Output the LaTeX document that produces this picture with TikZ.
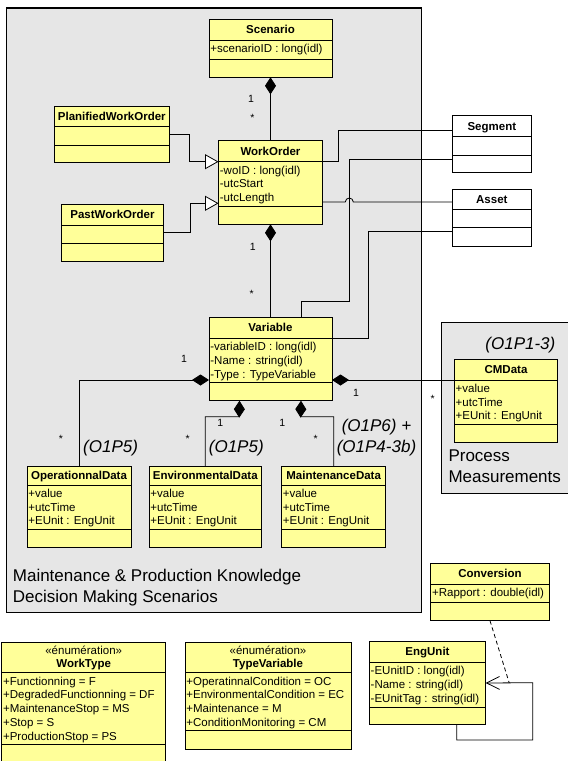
\documentclass[tikz,border=0pt]{standalone}
\usepackage{fontspec}
\setmainfont{Liberation Sans}
\usetikzlibrary{arrows.meta}
\definecolor{umlyellow}{RGB}{255,255,153}
\definecolor{pkggray}{RGB}{230,230,230}
\tikzset{
 clsbox/.style={draw, fill=umlyellow, line width=0.9pt, inner sep=0pt, outer sep=0pt},
 clsline/.style={line width=0.9pt},
 clsname/.style={font=\bfseries\fontsize{11.5}{13.8}\selectfont, inner sep=0pt, text height=8.3pt, text depth=0pt},
 clsattr/.style={font=\fontsize{11.5}{13.7}\selectfont, align=left, anchor=north west, inner xsep=1.2pt, inner ysep=0pt},
 stereo/.style={font=\fontsize{11.5}{13.8}\selectfont, inner sep=0pt, text height=8.3pt, text depth=0pt},
 mult/.style={font=\fontsize{10.5}{12}\selectfont, inner sep=0pt},
 obj/.style={font=\itshape\fontsize{17}{21}\selectfont, inner sep=0pt, align=center},
 pkglabel/.style={font=\fontsize{17}{21}\selectfont, align=left, anchor=north west, inner sep=0pt},
 pkg/.style={draw, fill=pkggray, line width=1.3pt},
 comp/.style={line width=0.8pt, -{Diamond[length=17pt,width=11pt]}},
 gen/.style={line width=0.8pt, -{Triangle[open,length=13.5pt,width=15pt,fill=white]}},
 assoc/.style={line width=0.8pt}
}
% name, left, top, right, header bottom, attributes bottom, bottom, title, attributes
\newcommand\umlclass[9]{%
 \node[clsbox, minimum width={#4-#2}, minimum height={#7-#3}] (#1) at ({(#2+#4)/2},{(#3+#7)/2}) {};
 \draw[clsline] (#2,#5) coordinate (#1-hl) -- (#4,#5) coordinate (#1-hr);
 \draw[clsline] (#2,#6) coordinate (#1-al) -- (#4,#6) coordinate (#1-ar);
 \node[clsname] (#1-name) at ({(#2+#4)/2},{(#3+#5)/2}) {#8};
 \node[clsattr, yshift=-4pt] (#1-attr) at (#2,#5) {#9};
}
\begin{document}
\begin{tikzpicture}[x=1pt,y=-1pt]
\useasboundingbox (0,0) rectangle (568,761);
\draw[pkg] (6.5,8) rectangle (421.5,612.5);
\draw[pkg] (441.7,322.3) rectangle (590,493.3);

\umlclass{scenario}{209}{19.3}{332}{40}{59.3}{77.3}{Scenario}{+scenarioID : long(idl)}
\umlclass{workorder}{218.5}{140.7}{322.5}{161.7}{206.7}{224.3}{WorkOrder}{-woID : long(idl)\\-utcStart\\-utcLength}
\umlclass{planified}{54.3}{106}{169.3}{126.7}{145}{162.5}{PlanifiedWorkOrder}{}
\umlclass{pastwo}{61.6}{204}{163.3}{225}{243.3}{261}{PastWorkOrder}{}
\begin{scope}[clsbox/.append style={fill=white}]
\umlclass{segment}{452.7}{115.7}{531}{136.7}{155}{172.7}{Segment}{}
\umlclass{asset}{452.7}{189}{531}{209.7}{227.7}{246}{Asset}{}
\end{scope}
\umlclass{variable}{209}{317.3}{332}{338.3}{382.7}{400.7}{Variable}{-variableID : long(idl)\\-Name : string(idl)\\-Type : TypeVariable}
\umlclass{operational}{27}{466}{131}{485}{529}{547.3}{OperationnalData}{+value\\+utcTime\\+EUnit : EngUnit}
\umlclass{environmental}{149}{466}{261.5}{485}{529}{547.3}{EnvironmentalData}{+value\\+utcTime\\+EUnit : EngUnit}
\umlclass{maintenance}{281.5}{466}{385.8}{485}{529}{547.3}{MaintenanceData}{+value\\+utcTime\\+EUnit : EngUnit}
\umlclass{cmdata}{454.3}{359}{557.7}{380}{424.3}{442.3}{CMData}{+value\\+utcTime\\+EUnit : EngUnit}
\umlclass{conversion}{430.7}{563.3}{549.3}{584}{602.3}{620.7}{Conversion}{+Rapport : double(idl)}
\umlclass{engunit}{369.3}{641.3}{485.7}{662.3}{707}{724.7}{EngUnit}{-EUnitID : long(idl)\\-Name : string(idl)\\-EUnitTag : string(idl)}
\umlclass{worktype}{1.7}{642.3}{165.7}{672.7}{744.3}{775}{}{+Functionning = F\\+DegradedFunctionning = DF\\+MaintenanceStop = MS\\+Stop = S\\+ProductionStop = PS}
\umlclass{typevariable}{185}{642.3}{351}{672.7}{730.7}{749}{}{+OperatinnalCondition = OC\\+EnvironmentalCondition = EC\\+Maintenance = M\\+ConditionMonitoring = CM}
\node[stereo] (worktype-stereo) at (83.7,650.7) {«énumération»};
\node[clsname] (worktype-title) at (83.7,663.3) {WorkType};
\node[stereo] (typevariable-stereo) at (268,650.7) {«énumération»};
\node[clsname] (typevariable-title) at (268,663.3) {TypeVariable};

\draw[comp] (workorder.north) -- (scenario.south);
\draw[gen] (planified.east) -- ++(20,0) |- (workorder-hl);
\draw[gen] (pastwo.east) -- ++(27,0) |- ([yshift=3.4pt]workorder-al);
\draw[assoc] (workorder-hr) -- ++(15.6,0) |- ([yshift=-14.3pt]segment.north west);
\draw[assoc] ([xshift=30.5pt]variable.north) |- ++(48.6,-15.6) |- ([yshift=-4pt]segment-al);
\draw[assoc] ([yshift=4.7pt]workorder-ar) -- ++(22.8,0) arc[start angle=180,end angle=0,radius=4pt] -- ([yshift=-13pt]asset.north west);
\draw[assoc] (variable-hr) -- ++(36,0) |- ([yshift=-4pt]asset-al);
\draw[comp] (variable.north) -- (workorder.south);
\draw[comp] (operational.north) |- ([yshift=-21pt]variable.west);
\draw[comp] (environmental.north) |- ++(34,-49.3) -- ([xshift=-31pt]variable.south);
\draw[comp] (maintenance.north) |- ++(-33,-49.3) -- ([xshift=30.5pt]variable.south);
\draw[comp] (cmdata-hl) -- ([yshift=-21pt]variable.east);
\draw[assoc, -{Straight Barb[length=13pt,width=13pt]}] ([xshift=29.2pt]engunit.south) -- ++(0,15.3) -| ++(76,-57.3) -- coordinate[pos=0.5] (loopmid) (engunit.east);
\draw[assoc, dash pattern=on 4pt off 3pt] (conversion.south) -- (loopmid);

\node[mult] (m1) at (251,99) {1};
\node[mult] (m2) at (252.5,117.4) {*};
\node[mult] (m3) at (252.7,246.7) {1};
\node[mult] (m4) at (251.7,294.1) {*};
\node[mult] (m5) at (184,359) {1};
\node[mult] (m6) at (61,438.4) {*};
\node[mult] (m7) at (220.3,423.3) {1};
\node[mult] (m8) at (187.7,438.4) {*};
\node[mult] (m9) at (282.3,423.3) {1};
\node[mult] (m10) at (315.7,438.4) {*};
\node[mult] (m11) at (356,393.3) {1};
\node[mult] (m12) at (432.7,399.1) {*};

\node[obj, anchor=west] (o1) at (83,448.5) {(O1P5)};
\node[obj, anchor=west] (o2) at (208.7,448.5) {(O1P5)};
\node[obj] (o3) at (376.5,437.2) {(O1P6) +\\(O1P4-3b)};
\node[obj] (o4) at (520.4,345) {(O1P1-3)};
\node[pkglabel] (pkgname) at (12.7,568.7) {Maintenance \& Production Knowledge\\Decision Making Scenarios};
\node[pkglabel] (procname) at (448.3,449.9) {Process\\Measurements};
\end{tikzpicture}
\end{document}
